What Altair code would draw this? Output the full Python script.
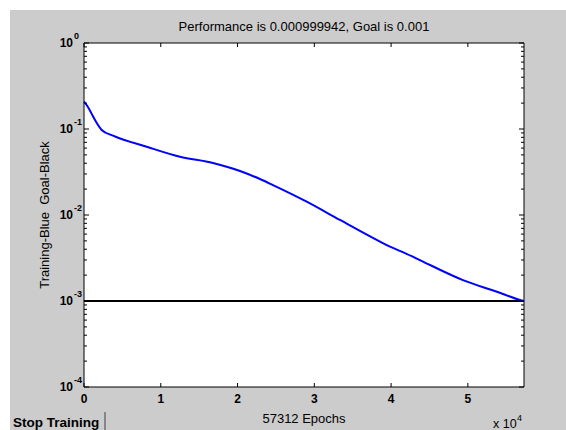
import altair as alt
import pandas as pd

# ---- data ----
epochs = [0, 430, 950, 1433, 2305, 3777, 8167, 12504, 16802, 20319, 22924,
          24617, 29007, 33344, 38554, 39857, 41810, 45067, 49365, 53794, 56790, 57312]
perf = [0.208, 0.185, 0.153, 0.127, 0.0974, 0.0836, 0.0622, 0.0476, 0.0402, 0.0325, 0.0262,
        0.0223, 0.0143, 0.00875, 0.0049, 0.00428, 0.00361, 0.00262, 0.00175, 0.00128, 0.00103, 0.000999942]
goal_epochs = [0, 57312]
goal_vals = [0.001, 0.001]
y_major = [1, 0.1, 0.01, 0.001, 0.0001]
y_exponents = ["0", "-1", "-2", "-3", "-4"]
y_minor = [k * 10.0 ** e for e in range(-4, 0) for k in range(2, 10)]
x_ticks = [0, 10000, 20000, 30000, 40000, 50000]
x_labels = ["0", "1", "2", "3", "4", "5"]

TITLE = "Performance is 0.000999942, Goal is 0.001"
X_TITLE = "57312 Epochs"
Y_TITLE = "Training-Blue\u00a0 Goal-Black"

W, H = 440, 344
FONT = "Liberation Sans"
GRAY = "#cccccc"

xs = alt.Scale(domain=[0, 57312], nice=False, zero=False)
ys = alt.Scale(type="log", domain=[1e-4, 1], nice=False)

df = pd.DataFrame({"epoch": epochs, "perf": perf})
goal_df = pd.DataFrame({"epoch": goal_epochs, "perf": goal_vals})
major_df = pd.DataFrame({"v": y_major, "exp": y_exponents})
minor_df = pd.DataFrame({"v": y_minor})
xt_df = pd.DataFrame({"t": x_ticks, "lab": x_labels})
one = pd.DataFrame({"a": [0]})

# background decorations
bg = alt.Chart(one).mark_rect(color=GRAY).encode(
    x=alt.value(-74), x2=alt.value(W + 42), y=alt.value(-33), y2=alt.value(H + 43))
box = alt.Chart(one).mark_rect(fill="white", stroke="black", strokeWidth=1).encode(
    x=alt.value(0), x2=alt.value(W), y=alt.value(0), y2=alt.value(H))

goal = alt.Chart(goal_df).mark_line(color="black", strokeWidth=2).encode(
    x=alt.X("epoch:Q", scale=xs, axis=None), y=alt.Y("perf:Q", scale=ys, axis=None))
line = alt.Chart(df).mark_line(color="#0000ff", strokeWidth=2, interpolate="monotone").encode(
    x=alt.X("epoch:Q", scale=xs, axis=None), y=alt.Y("perf:Q", scale=ys, axis=None))

def yrule(d, x0, x1):
    return alt.Chart(d).mark_rule(color="black", strokeWidth=1).encode(
        y=alt.Y("v:Q", scale=ys, axis=None), x=alt.value(x0), x2=alt.value(x1))

def xrule(y0, y1):
    return alt.Chart(xt_df).mark_rule(color="black", strokeWidth=1).encode(
        x=alt.X("t:Q", scale=xs, axis=None), y=alt.value(y0), y2=alt.value(y1))

ticks = [yrule(major_df, 0, 5), yrule(major_df, W, W - 5),
         yrule(minor_df, 0, 3), yrule(minor_df, W, W - 3),
         xrule(H, H - 4), xrule(0, 4)]

ylab = alt.Chart(major_df).mark_text(font=FONT, fontSize=12, fontWeight="bold", align="right",
                                     baseline="middle", color="black").encode(
    y=alt.Y("v:Q", scale=ys, axis=None), x=alt.value(-11), text=alt.value("10"))
yexp = alt.Chart(major_df).mark_text(font=FONT, fontSize=9, fontWeight="bold", align="left",
                                     baseline="middle", dy=-7, color="black").encode(
    y=alt.Y("v:Q", scale=ys, axis=None), x=alt.value(-10), text="exp:N")
xlab = alt.Chart(xt_df).mark_text(font=FONT, fontSize=12, fontWeight="bold", align="center",
                                  baseline="top", color="black").encode(
    x=alt.X("t:Q", scale=xs, axis=None), y=alt.value(H + 7), text="lab:N")

title = alt.Chart(one).mark_text(font=FONT, fontSize=13, align="center", baseline="alphabetic",
                                 color="black").encode(
    x=alt.value(W / 2), y=alt.value(-12), text=alt.value(TITLE))
xtitle = alt.Chart(one).mark_text(font=FONT, fontSize=13, align="center", baseline="alphabetic",
                                  color="black").encode(
    x=alt.value(W / 2), y=alt.value(H + 36), text=alt.value(X_TITLE))
ytitle = alt.Chart(one).mark_text(font=FONT, fontSize=13, align="center", baseline="middle",
                                  angle=270, color="black").encode(
    x=alt.value(-39), y=alt.value(H / 2), text=alt.value(Y_TITLE))

mult = alt.Chart(one).mark_text(font=FONT, fontSize=12.5, align="left", baseline="alphabetic",
                                color="black").encode(
    x=alt.value(W - 31), y=alt.value(H + 41), text=alt.value("x 10"))
mult_exp = alt.Chart(one).mark_text(font=FONT, fontSize=9, align="left", baseline="alphabetic",
                                    color="black").encode(
    x=alt.value(W - 7), y=alt.value(H + 34), text=alt.value("4"))
stop = alt.Chart(one).mark_text(font=FONT, fontSize=13.5, fontWeight="bold", align="left",
                                baseline="alphabetic", color="black").encode(
    x=alt.value(-71), y=alt.value(H + 40), text=alt.value("Stop Training"))
stop_edge = alt.Chart(one).mark_rule(color="#404040", strokeWidth=1).encode(
    x=alt.value(21), y=alt.value(H + 25), y2=alt.value(H + 43))

chart = alt.layer(bg, box, goal, line, *ticks, ylab, yexp, xlab, title, xtitle, ytitle,
                  mult, mult_exp, stop, stop_edge).properties(
    width=W, height=H,
    autosize=alt.AutoSizeParams(type="none"),
    padding={"left": 84, "top": 43, "right": 42, "bottom": 43},
    background="white",
).configure_view(stroke=None)

chart.save("out.html", embed_options={"renderer": "svg", "actions": False})
